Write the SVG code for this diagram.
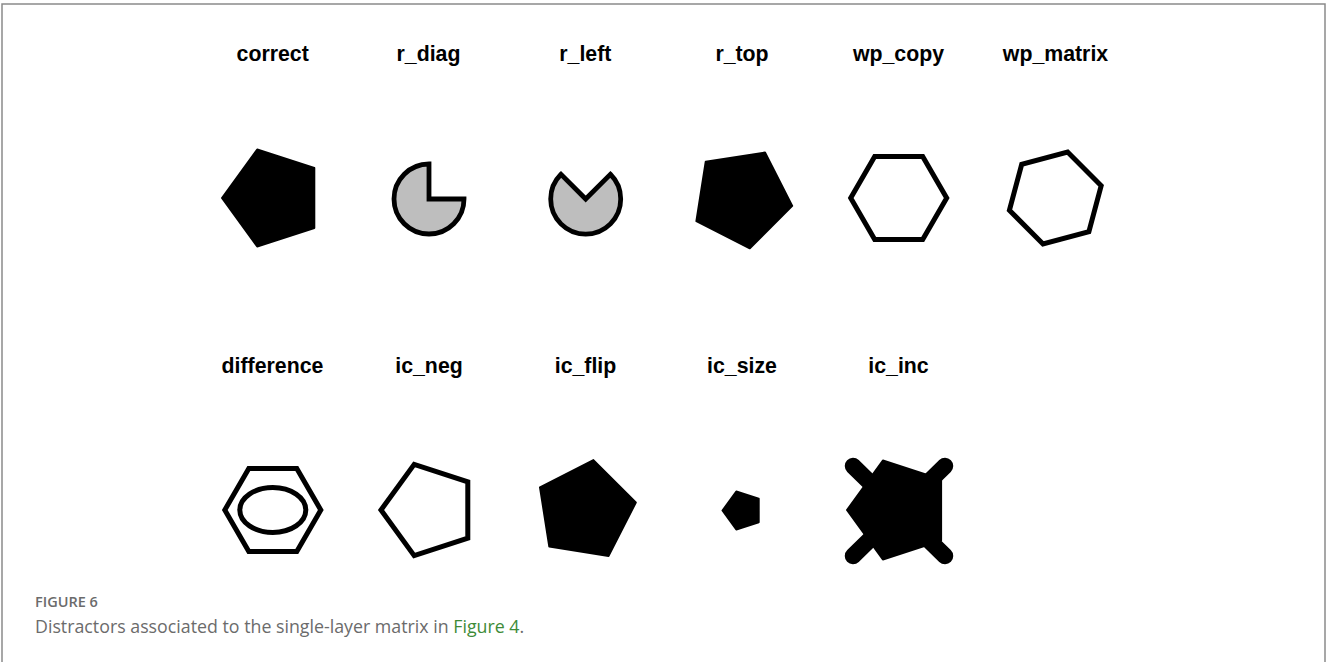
<svg xmlns="http://www.w3.org/2000/svg" width="1327" height="662" viewBox="0 0 1327 662">
<style>
.lbl{font-family:"Liberation Sans",Arial,sans-serif;font-weight:bold;font-size:21.3px;fill:#000;text-anchor:middle}
.solid{fill:#000;stroke:#000;stroke-width:2;stroke-linejoin:round}
.outl{fill:none;stroke:#000;stroke-width:5;stroke-linejoin:miter}
.pie{fill:#bebebe;stroke:#000;stroke-width:4.8;stroke-linejoin:miter}
.cap1{font-family:"Open Sans","Noto Sans",sans-serif;font-size:14.5px;font-weight:600;fill:#6b6b6b}
.cap2{font-family:"Open Sans","Noto Sans",sans-serif;font-size:17.8px;fill:#6b6b6b}
</style>
<rect width="1327" height="662" fill="#fff"/>
<path d="M2,662 V4 H1325 V662" fill="none" stroke="#8a8a8a" stroke-width="1.5"/>
<g id="correct"><text class="lbl" x="272.7" y="61">correct</text><polygon class="solid" points="222,198 257.2,149.5 314.3,168 314.3,228 257.2,246.5"/></g>
<g id="r_diag"><text class="lbl" x="428.5" y="61">r_diag</text><path class="pie" d="M429,199 V164 A35,35 0 1,0 464,199 Z"/></g>
<g id="r_left"><text class="lbl" x="585.3" y="61">r_left</text><path class="pie" d="M585.7,199 L610.4,174.3 A35,35 0 1,1 561,174.3 Z"/></g>
<g id="r_top"><text class="lbl" x="742" y="61">r_top</text><polygon class="solid" points="749.8,248.3 792.2,205.9 765,152.5 705.7,161.8 696.4,221.1"/></g>
<g id="wp_copy"><text class="lbl" x="898.5" y="61">wp_copy</text><polygon class="outl" points="946.7,198 922.7,239.6 874.7,239.6 850.7,198 874.7,156.4 922.7,156.4"/></g>
<g id="wp_matrix"><text class="lbl" x="1055.5" y="61">wp_matrix</text><polygon class="outl" points="1101.2,185.7 1088.9,231.6 1043,243.9 1009.4,210.3 1021.7,164.4 1067.6,152.1"/></g>
<g id="difference"><text class="lbl" x="272.5" y="373">difference</text><polygon class="outl" points="320.8,510 296.8,551.6 248.8,551.6 224.8,510 248.8,468.4 296.8,468.4"/><ellipse class="outl" cx="272.8" cy="510" rx="33" ry="22.5"/></g>
<g id="ic_neg"><text class="lbl" x="429" y="373">ic_neg</text><polygon class="outl" points="381,510 414.2,464.4 467.8,481.8 467.8,538.2 414.2,555.6"/></g>
<g id="ic_flip"><text class="lbl" x="585.5" y="373">ic_flip</text><polygon class="solid" points="593.4,460.1 635.8,502.5 608.6,555.9 549.3,546.6 540,487.3"/></g>
<g id="ic_size"><text class="lbl" x="742" y="373">ic_size</text><polygon class="solid" points="722.5,510.5 736.3,491.5 758.7,498.7 758.7,522.3 736.3,529.5"/></g>
<g id="ic_inc"><text class="lbl" x="898.5" y="373">ic_inc</text><path d="M853,466 L945,556 M945,466 L853,556" stroke="#000" stroke-width="16.5" stroke-linecap="round" fill="none"/><polygon class="solid" points="847,510 882.9,460.5 941.1,479.4 941.1,540.6 882.9,559.5"/></g>
<g id="caption"><text class="cap1" x="35" y="607">FIGURE 6</text><text class="cap2" x="35" y="633">Distractors associated to the single-layer matrix in <tspan fill="#3d8b37">Figure 4</tspan>.</text></g>
</svg>
